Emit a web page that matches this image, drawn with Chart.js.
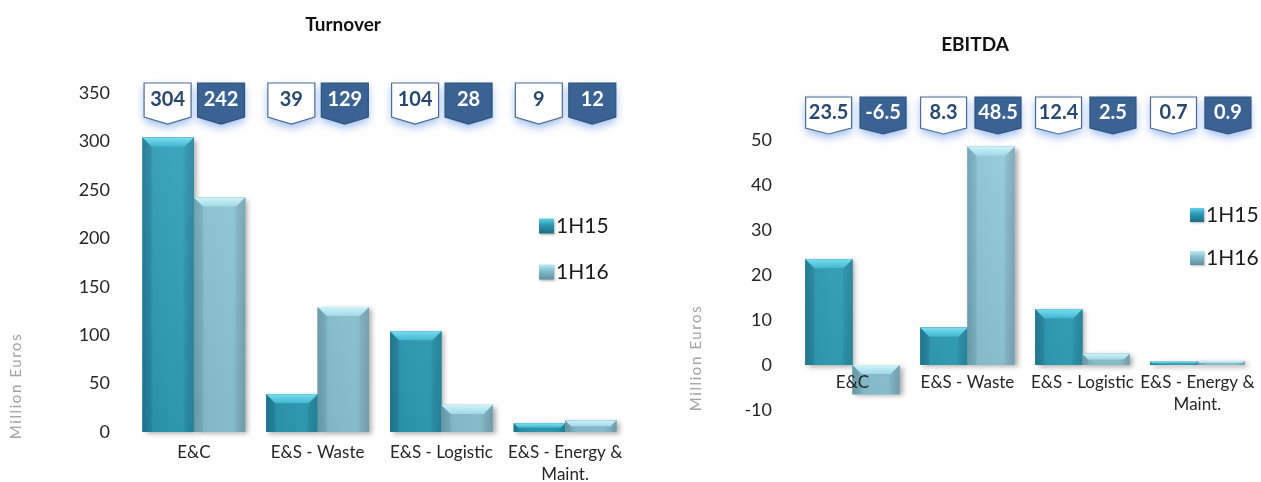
<!DOCTYPE html>
<html>
<head>
<meta charset="utf-8">
<title>Turnover and EBITDA by business area</title>
<script src="https://cdn.jsdelivr.net/npm/chart.js@4/dist/chart.umd.min.js"></script>
<style>
  html, body { margin: 0; padding: 0; background: #ffffff; }
  #wrap { position: relative; width: 1261px; height: 482px; overflow: hidden; }
  #turnover { position: absolute; left: 0; top: 0; width: 640px; height: 482px; }
  #ebitda { position: absolute; left: 640px; top: 0; width: 621px; height: 482px; }
</style>
</head>
<body>
<div id="wrap">
  <canvas id="turnover" width="640" height="482"></canvas>
  <canvas id="ebitda" width="621" height="482"></canvas>
</div>
<script>
// ---------- data ----------
const categories = ['E&C', 'E&S - Waste', 'E&S - Logistic', ['E&S - Energy &', 'Maint.']];
const seriesNames = ['1H15', '1H16'];
const turnover1H15 = [304, 39, 104, 9];
const turnover1H16 = [242, 129, 28, 12];
const ebitda1H15 = [23.5, 8.3, 12.4, 0.7];
const ebitda1H16 = [-6.5, 48.5, 2.5, 0.9];
const turnoverTicks = [0, 50, 100, 150, 200, 250, 300, 350];
const ebitdaTicks = [-10, 0, 10, 20, 30, 40, 50];
const chartTitles = ['Turnover', 'EBITDA'];
const unitLabel = 'Million Euros';

// ---------- styling ----------
const FONT = 'Lato, "Open Sans", "DejaVu Sans", sans-serif';

const SERIES_STYLE = [
  { // 1H15: deep teal
    flat: '#2c96b0',
    body: ['#24839b', '#2e9cb6', '#31a2bb', '#2a8ea7'],
    top: ['#7adef1', '#41b7cf'],
    left: 'rgba(0,45,65,0.10)', right: 'rgba(0,45,65,0.05)',
    key: ['#5fd3ea', '#2b96b0', '#1c6f86']
  },
  { // 1H16: light steel blue
    flat: '#88c1d0',
    body: ['#76a9ba', '#8bc4d3', '#90c9d8', '#7eabbb'],
    top: ['#cdf3f9', '#a0dae7'],
    left: 'rgba(20,60,80,0.08)', right: 'rgba(20,60,80,0.04)',
    key: ['#b6ecf6', '#82bccb', '#5f8f9f']
  }
];

function poly(ctx, pts, fill) {
  ctx.beginPath();
  ctx.moveTo(pts[0][0], pts[0][1]);
  for (let i = 1; i < pts.length; i++) ctx.lineTo(pts[i][0], pts[i][1]);
  ctx.closePath();
  ctx.fillStyle = fill;
  ctx.fill();
}

function barBox(el) {
  const p = el.getProps(['x', 'y', 'base', 'width'], true);
  return {
    x0: p.x - p.width / 2, x1: p.x + p.width / 2, cx: p.x,
    top: Math.min(p.y, p.base), bot: Math.max(p.y, p.base)
  };
}

// soft drop shadow behind every bar
function drawBarShadows(chart) {
  const ctx = chart.ctx;
  chart.data.datasets.forEach((ds, di) => {
    chart.getDatasetMeta(di).data.forEach(el => {
      const b = barBox(el);
      ctx.save();
      ctx.shadowColor = 'rgba(70,70,70,0.45)';
      ctx.shadowBlur = 5;
      ctx.shadowOffsetX = 3;
      ctx.shadowOffsetY = 2;
      ctx.fillStyle = SERIES_STYLE[di].flat;
      ctx.fillRect(b.x0, b.top, b.x1 - b.x0, Math.max(b.bot - b.top, 1));
      ctx.restore();
    });
  });
}

// bevelled 3D faces painted over each bar
function drawBevels(chart) {
  const ctx = chart.ctx;
  const area = chart.chartArea;
  chart.data.datasets.forEach((ds, di) => {
    const st = SERIES_STYLE[di];
    chart.getDatasetMeta(di).data.forEach(el => {
      const { x0, x1, top, bot } = barBox(el);
      const w = x1 - x0, h = Math.max(bot - top, 1);
      const bv = Math.max(0.5, Math.min(9, h / 2, w / 4));
      ctx.save();
      const g = ctx.createLinearGradient(x0, 0, x1, 0);
      g.addColorStop(0, st.body[0]);
      g.addColorStop(0.22, st.body[1]);
      g.addColorStop(0.75, st.body[2]);
      g.addColorStop(1, st.body[3]);
      ctx.fillStyle = g;
      ctx.fillRect(x0, top, w, h);
      const v = ctx.createLinearGradient(0, area.top, 0, area.bottom);
      v.addColorStop(0, 'rgba(255,255,255,0.08)');
      v.addColorStop(1, 'rgba(0,0,0,0.07)');
      ctx.fillStyle = v;
      ctx.fillRect(x0, top, w, h);
      const tg = ctx.createLinearGradient(0, top, 0, top + bv);
      tg.addColorStop(0, st.top[0]);
      tg.addColorStop(1, st.top[1]);
      poly(ctx, [[x0, top], [x1, top], [x1 - bv, top + bv], [x0 + bv, top + bv]], tg);
      poly(ctx, [[x0, top], [x0 + bv, top + bv], [x0 + bv, bot], [x0, bot]], st.left);
      poly(ctx, [[x1, top], [x1 - bv, top + bv], [x1 - bv, bot], [x1, bot]], st.right);
      ctx.restore();
    });
  });
}

// value tag with a pointed bottom edge
function drawBadge(ctx, cx, top, w, rectH, tip, filled, text) {
  const x0 = cx - w / 2, x1 = cx + w / 2;
  ctx.save();
  ctx.beginPath();
  ctx.moveTo(x0, top);
  ctx.lineTo(x1, top);
  ctx.lineTo(x1, top + rectH);
  ctx.lineTo(cx, top + rectH + tip);
  ctx.lineTo(x0, top + rectH);
  ctx.closePath();
  ctx.shadowColor = 'rgba(80,135,225,0.55)';
  ctx.shadowBlur = 9;
  ctx.shadowOffsetY = 4;
  ctx.fillStyle = filled ? '#3a6292' : '#ffffff';
  ctx.fill();
  ctx.shadowColor = 'rgba(0,0,0,0)';
  ctx.lineWidth = 1.2;
  ctx.strokeStyle = filled ? '#2e5282' : '#4d6d95';
  ctx.stroke();
  ctx.fillStyle = filled ? '#ffffff' : '#2a4970';
  ctx.font = 'bold 20px ' + FONT;
  ctx.textAlign = 'center';
  ctx.textBaseline = 'middle';
  ctx.fillText(text, cx, top + rectH / 2);
  ctx.restore();
}

function drawKeySquare(ctx, x, y, s, st) {
  ctx.save();
  ctx.shadowColor = 'rgba(60,60,60,0.35)';
  ctx.shadowBlur = 2;
  ctx.shadowOffsetX = 1;
  ctx.shadowOffsetY = 1;
  const g = ctx.createLinearGradient(0, y, 0, y + s);
  g.addColorStop(0, st.key[0]);
  g.addColorStop(0.45, st.key[1]);
  g.addColorStop(1, st.key[2]);
  ctx.fillStyle = g;
  ctx.fillRect(x, y, s, s);
  ctx.restore();
}

function decorPlugin(spec) {
  return {
    id: 'decor',
    beforeDatasetsDraw(chart) { drawBarShadows(chart); },
    afterDatasetsDraw(chart) { drawBevels(chart); },
    afterDraw(chart) {
      const ctx = chart.ctx;
      // title
      ctx.save();
      ctx.fillStyle = '#111111';
      ctx.font = 'bold 19px ' + FONT;
      ctx.textAlign = 'center';
      ctx.textBaseline = 'middle';
      ctx.fillText(spec.title, spec.titleX, spec.titleY);
      ctx.restore();
      // unit note
      ctx.save();
      ctx.translate(spec.noteX, spec.noteY);
      ctx.rotate(-Math.PI / 2);
      ctx.fillStyle = '#a3a3a3';
      ctx.font = '15px ' + FONT;
      ctx.letterSpacing = '1.6px';
      ctx.textAlign = 'center';
      ctx.textBaseline = 'middle';
      ctx.fillText(unitLabel, 0, 0);
      ctx.restore();
      // legend
      chart.data.datasets.forEach((ds, di) => {
        const cy = spec.legendY + di * spec.legendGap;
        drawKeySquare(ctx, spec.legendX, cy - spec.keySize / 2, spec.keySize, SERIES_STYLE[di]);
        ctx.save();
        ctx.fillStyle = '#1a1a1a';
        ctx.font = spec.legendFont + 'px ' + FONT;
        ctx.textAlign = 'left';
        ctx.textBaseline = 'middle';
        ctx.fillText(ds.label, spec.legendX + spec.keySize + 2, cy);
        ctx.restore();
      });
      // value tags
      chart.data.datasets.forEach((ds, di) => {
        chart.getDatasetMeta(di).data.forEach((el, i) => {
          const b = barBox(el);
          drawBadge(ctx, b.cx + spec.badgeShift[di], spec.badgeTop, spec.badgeW,
            spec.badgeH, spec.badgeTip, di === 1, spec.fmt(ds.data[i]));
        });
      });
    }
  };
}

function makeChart(canvasId, spec) {
  return new Chart(document.getElementById(canvasId), {
    type: 'bar',
    data: {
      labels: categories,
      datasets: [
        { label: seriesNames[0], data: spec.first, backgroundColor: SERIES_STYLE[0].flat, borderWidth: 0 },
        { label: seriesNames[1], data: spec.second, backgroundColor: SERIES_STYLE[1].flat, borderWidth: 0 }
      ]
    },
    options: {
      responsive: false,
      animation: false,
      layout: { padding: spec.padding },
      datasets: { bar: { categoryPercentage: spec.catPct, barPercentage: 1 } },
      plugins: {
        legend: { display: false },
        title: { display: false },
        tooltip: { enabled: false }
      },
      scales: {
        x: {
          position: spec.xPosition,
          grid: { display: false, drawTicks: false },
          border: { display: false },
          ticks: {
            z: 1,
            autoSkip: false, maxRotation: 0, minRotation: 0,
            padding: spec.xPad, color: '#262626',
            font: { family: FONT, size: 17, lineHeight: 1.3 }
          },
          afterFit: s => { s.height = spec.xHeight; }
        },
        y: {
          min: spec.ticks[0],
          max: spec.ticks[spec.ticks.length - 1],
          grid: { display: false, drawTicks: false },
          border: { display: false },
          ticks: {
            padding: spec.yPad, color: '#262626',
            font: { family: FONT, size: 18 }
          },
          afterBuildTicks: s => { s.ticks = spec.ticks.map(v => ({ value: v })); },
          afterFit: s => { s.width = spec.yWidth; }
        }
      }
    },
    plugins: [decorPlugin(spec)]
  });
}

function build() {
  makeChart('turnover', {
    first: turnover1H15, second: turnover1H16, ticks: turnoverTicks,
    title: chartTitles[0], titleX: 343, titleY: 25,
    noteX: 16, noteY: 386,
    padding: { left: 30, top: 93, right: 13, bottom: 0 },
    yWidth: 102, yPad: 22, xHeight: 50, xPad: 9, xPosition: 'bottom',
    catPct: 0.83,
    legendX: 539, legendY: 226, legendGap: 46, keySize: 15, legendFont: 21,
    badgeTop: 83, badgeW: 47, badgeH: 34, badgeTip: 7, badgeShift: [-0.6, 1.5],
    fmt: v => String(Math.round(v))
  });
  makeChart('ebitda', {
    first: ebitda1H15, second: ebitda1H16, ticks: ebitdaTicks,
    title: chartTitles[1], titleX: 335, titleY: 45,
    noteX: 56, noteY: 358,
    padding: { left: 30, top: 140, right: 4, bottom: 72 },
    yWidth: 125, yPad: 23, xHeight: 0, xPad: 6, xPosition: { y: 0 },
    catPct: 0.82,
    legendX: 550, legendY: 215, legendGap: 43, keySize: 14, legendFont: 21,
    badgeTop: 97, badgeW: 46, badgeH: 31, badgeTip: 6, badgeShift: [-0.3, 7],
    fmt: v => v.toFixed(1)
  });
}

if (document.fonts && document.fonts.load) {
  Promise.all([
    document.fonts.load('18px Lato'),
    document.fonts.load('bold 20px Lato')
  ]).then(build, build);
} else {
  build();
}
</script>
</body>
</html>
